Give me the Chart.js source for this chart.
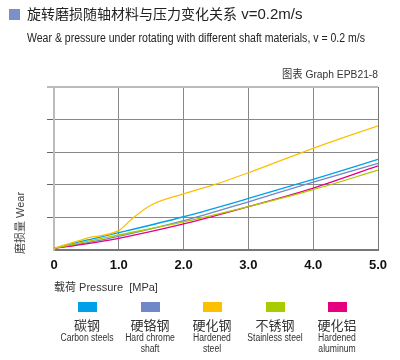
<!DOCTYPE html>
<html>
<head>
<meta charset="utf-8">
<script src="https://cdn.jsdelivr.net/npm/chart.js@4/dist/chart.umd.min.js"></script>
<style>
  body { margin: 0; width: 400px; height: 360px; background: #fff; position: relative; overflow: hidden; font-family: "Liberation Sans", Arial, sans-serif; color: #222; }
  #wrap { position: absolute; left: 0; top: 0; width: 400px; height: 360px; }
  .abs { position: absolute; white-space: nowrap; }
  .title-box { left: 9px; top: 9px; width: 11px; height: 11px; background: #7b8fc9; }
  .title { left: 27px; top: 5px; font-size: 15px; line-height: 18px; font-family: "Liberation Sans", "Noto Sans CJK SC", sans-serif; color: #222; }
  .title .cn { font-size: 14px; }
  .sub { left: 27px; top: 31px; font-size: 12px; line-height: 14px; transform-origin: 0 0; }
  .graph { left: 282px; top: 68px; font-size: 11px; line-height: 13px; font-family: "Liberation Sans", "Noto Sans CJK SC", sans-serif; color: #333; transform-origin: 0 0; }
  .xlab { left: 54px; top: 280px; font-size: 11px; line-height: 14px; font-family: "Liberation Sans", "Noto Sans CJK SC", sans-serif; color: #333; }
  .leg { position: absolute; top: 302px; width: 90px; margin-left: -45px; text-align: center; }
  .leg .sw { width: 19px; height: 10px; margin: 0 auto; }
  .leg .cn { font-size: 13px; font-family: "Noto Sans CJK SC", sans-serif; margin-top: 5px; line-height: 15px; color: #333; }
  .leg .en { font-size: 10px; line-height: 11px; transform: scaleX(0.86); color: #333; }
</style>
</head>
<body>
<div id="wrap"><canvas id="chart" width="400" height="360"></canvas></div>
<div class="abs title-box"></div>
<div class="abs title"><span class="cn">旋转磨损随轴材料与压力变化关系</span> v=0.2m/s</div>
<div class="abs sub" id="sub">Wear &amp; pressure under rotating with different shaft materials, v = 0.2 m/s</div>
<div class="abs graph" id="graph">图表 Graph EPB21-8</div>
<div class="abs xlab">载荷 Pressure&nbsp; [MPa]</div>
<div id="legend"></div>
<script>
// 横轴刻度
const pressureTicks = [0, 1, 2, 3, 4, 5];

// 系列名称 / 颜色
const seriesCn = ['碳钢', '硬铬钢', '硬化钢', '不锈钢', '硬化铝'];
const seriesEn = [['Carbon steels'], ['Hard chrome', 'shaft'], ['Hardened', 'steel'], ['Stainless steel'], ['Hardened', 'aluminum']];
const seriesColors = ['#00a0e9', '#7088c8', '#fbc000', '#a8cc00', '#e4007f'];

// 数据 (磨损量, 相对单位)
const pressure = [0, 0.5, 1, 2, 3, 4, 5];
const carbonWear = [0.05, 0.3, 0.53, 1.02, 1.58, 2.17, 2.78];
const chromeWear = [0.05, 0.22, 0.42, 0.9, 1.48, 2.08, 2.66];
const stainlessWear = [0.05, 0.26, 0.46, 0.86, 1.33, 1.85, 2.45];
const aluminumWear = [0.05, 0.19, 0.36, 0.8, 1.33, 1.9, 2.58];
const hardenedPressure = [0, 0.5, 1, 1.2, 1.5, 2, 2.5, 3, 4, 5];
const hardenedWear = [0.05, 0.36, 0.6, 0.95, 1.38, 1.72, 2.02, 2.37, 3.12, 3.81];

const toPoints = (xs, ys) => xs.map((x, i) => ({ x, y: ys[i] }));

const seriesData = [
    toPoints(pressure, carbonWear),
    toPoints(pressure, chromeWear),
    toPoints(hardenedPressure, hardenedWear),
    toPoints(pressure, stainlessWear),
    toPoints(pressure, aluminumWear),
];

// 文字宽度压缩到参考图宽度
function fitWidth(id, target) {
    const el = document.getElementById(id);
    const w = el.getBoundingClientRect().width;
    if (w > target) el.style.transform = `scaleX(${target / w})`;
}
fitWidth('sub', 338);
fitWidth('graph', 96);

// 图例
const legendX = [87, 150, 212, 275, 337];
document.getElementById('legend').innerHTML = seriesCn.map((name, i) => `
    <div class="leg" style="left:${legendX[i]}px">
        <div class="sw" style="background:${seriesColors[i]}"></div>
        <div class="cn">${name}</div>
        ${seriesEn[i].map(t => `<div class="en">${t}</div>`).join('')}
    </div>
`).join('');

// 上边框、右边框、纵轴标题
const frame = {
    id: 'frame',
    afterDraw(chart) {
        const { ctx, chartArea: a } = chart;
        ctx.save();
        ctx.strokeStyle = '#bbbbbb';
        ctx.lineWidth = 2;
        ctx.beginPath();
        ctx.moveTo(a.left - 7, a.top);
        ctx.lineTo(a.right, a.top);
        ctx.stroke();
        ctx.strokeStyle = '#777777';
        ctx.lineWidth = 1;
        ctx.beginPath();
        ctx.moveTo(a.right + 0.5, a.top);
        ctx.lineTo(a.right + 0.5, a.bottom);
        ctx.stroke();

        ctx.translate(21, 223);
        ctx.rotate(-Math.PI / 2);
        ctx.fillStyle = '#444';
        ctx.font = '11px "Liberation Sans", "Noto Sans CJK SC", sans-serif';
        ctx.textAlign = 'center';
        ctx.textBaseline = 'middle';
        ctx.fillText('磨损量 Wear', 0, 0);
        ctx.restore();
    }
};

// 绘制顺序: 黄色在最上
const drawOrder = [0, 1, 4, 3, 2];

new Chart(document.getElementById('chart').getContext('2d'), {
    type: 'line',
    data: {
        datasets: seriesData.map((pts, i) => ({
            label: seriesCn[i],
            data: pts,
            borderColor: seriesColors[i],
            borderWidth: 1.3,
            pointRadius: 0,
            fill: false,
            cubicInterpolationMode: 'monotone',
            order: drawOrder.length - drawOrder.indexOf(i),
        }))
    },
    options: {
        responsive: false,
        animation: false,
        events: [],
        layout: { padding: { left: 46, right: 22, top: 87, bottom: 0 } },
        plugins: { legend: { display: false }, tooltip: { enabled: false } },
        scales: {
            x: {
                type: 'linear',
                min: 0,
                max: 5,
                afterFit(s) { s.height = 110; },
                afterBuildTicks(s) { s.ticks = pressureTicks.map(v => ({ value: v })); },
                ticks: {
                    padding: 8,
                    color: '#111',
                    font: { family: 'Liberation Sans', size: 13, weight: 'bold' },
                    callback: v => v === 0 ? '0' : v.toFixed(1),
                },
                grid: {
                    drawTicks: false,
                    color: c => (c.tick && (c.tick.value === 0 || c.tick.value === 5)) ? 'rgba(0,0,0,0)' : '#888',
                    borderDash: [2, 2],
                    lineWidth: 1,
                },
                border: { color: '#777', width: 2 },
            },
            y: {
                min: 0,
                max: 5,
                afterFit(s) { s.width = 8; },
                ticks: { display: false, stepSize: 1 },
                grid: {
                    drawTicks: true,
                    tickLength: 7,
                    tickColor: c => (c.tick && (c.tick.value === 0 || c.tick.value === 5)) ? 'rgba(0,0,0,0)' : '#666',
                    color: c => (c.tick && (c.tick.value === 0 || c.tick.value === 5)) ? 'rgba(0,0,0,0)' : '#888',
                    borderDash: [2, 2],
                    tickBorderDash: [],
                    lineWidth: 1,
                },
                border: { color: '#bbb', width: 2 },
            }
        }
    },
    plugins: [frame]
});
</script>
</body>
</html>
